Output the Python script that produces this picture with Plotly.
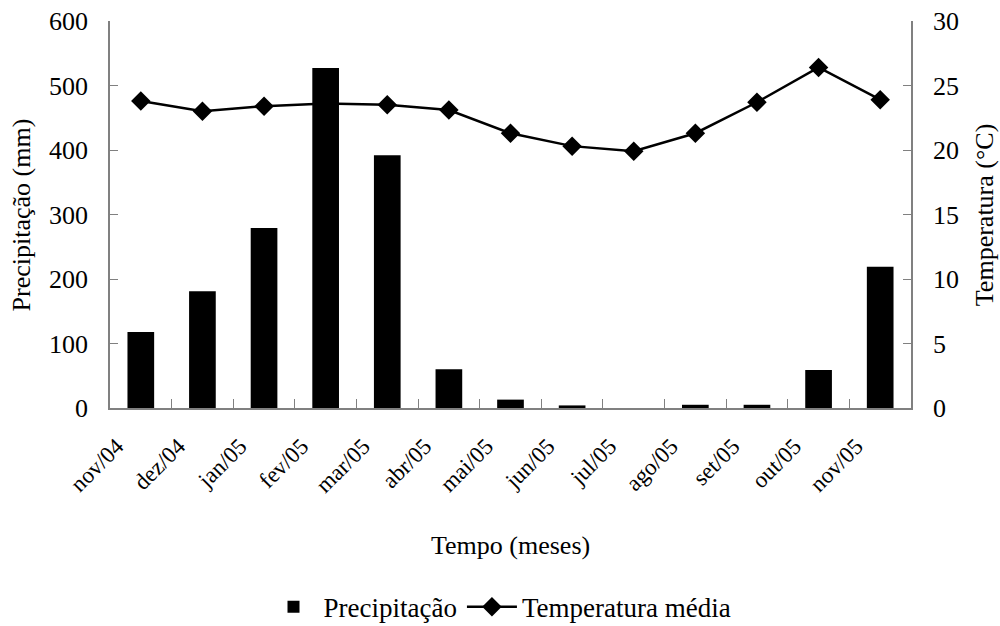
import plotly.graph_objects as go

months = ["nov/04", "dez/04", "jan/05", "fev/05", "mar/05", "abr/05", "mai/05",
          "jun/05", "jul/05", "ago/05", "set/05", "out/05", "nov/05"]
precip = [118, 181, 279, 527, 392, 60, 13, 4, 0, 5, 5, 59, 219]
temp = [23.8, 23.0, 23.4, 23.6, 23.5, 23.1, 21.3, 20.3, 19.9, 21.3, 23.7, 26.4, 23.9]

FONT = "Liberation Serif, Times New Roman, serif"
AXC = "#808080"
FS = 26

fig = go.Figure()
fig.add_trace(go.Bar(x=months, y=precip, name="Precipitação",
                     marker=dict(color="black", line=dict(width=0)),
                     width=0.433, yaxis="y"))
fig.add_trace(go.Scatter(x=months, y=temp, name="Temperatura média",
                         mode="lines+markers",
                         line=dict(color="black", width=2.5),
                         marker=dict(symbol="diamond", size=15, color="black"),
                         yaxis="y2"))

fig.update_layout(
    width=1000, height=626,
    margin=dict(l=110, r=89, t=21, b=218, autoexpand=False),
    plot_bgcolor="white", paper_bgcolor="white",
    font=dict(family=FONT, size=FS, color="black"),
    showlegend=True,
    legend=dict(orientation="h", x=0.5, xanchor="center", xref="container",
                y=0.03, yanchor="middle", yref="container",
                font=dict(size=27), traceorder="normal", itemwidth=50),
    xaxis=dict(
        type="category", showline=True, linecolor=AXC, linewidth=1.5,
        ticks="inside", tickcolor=AXC, ticklen=9, tickson="boundaries",
        tickangle=-45, tickfont=dict(size=23), ticklabelstandoff=14,
        ticklabelshift=-24,
        showgrid=False, range=[-0.5, 12.5], automargin=False,
    ),
    yaxis=dict(
        range=[0, 600], dtick=100, showline=True, linecolor=AXC, linewidth=1.5,
        ticks="inside", tickcolor=AXC, ticklen=8, showgrid=False, zeroline=False,
        tickfont=dict(size=FS), ticklabelstandoff=15, automargin=False,
    ),
    yaxis2=dict(
        range=[0, 30], dtick=5, overlaying="y", side="right",
        showline=True, linecolor=AXC, linewidth=1.5,
        ticks="inside", tickcolor=AXC, ticklen=8, showgrid=False, zeroline=False,
        tickfont=dict(size=FS), ticklabelstandoff=15, automargin=False,
    ),
    annotations=[
        dict(text="Tempo (meses)", xref="paper", yref="paper", x=0.5, y=-0.355,
             showarrow=False, xanchor="center", yanchor="middle", font=dict(size=FS)),
        dict(text="Precipitação (mm)", xref="paper", yref="paper", x=-0.11, y=0.5,
             showarrow=False, xanchor="center", yanchor="middle", textangle=-90,
             font=dict(size=FS)),
        dict(text="Temperatura (°C)", xref="paper", yref="paper", x=1.092, y=0.5,
             showarrow=False, xanchor="center", yanchor="middle", textangle=-90,
             font=dict(size=FS)),
    ],
)

fig.write_html(
    "out.html",
    config={"displayModeBar": False},
    post_script="document.body.style.margin='0';document.body.style.overflow='hidden';",
)
